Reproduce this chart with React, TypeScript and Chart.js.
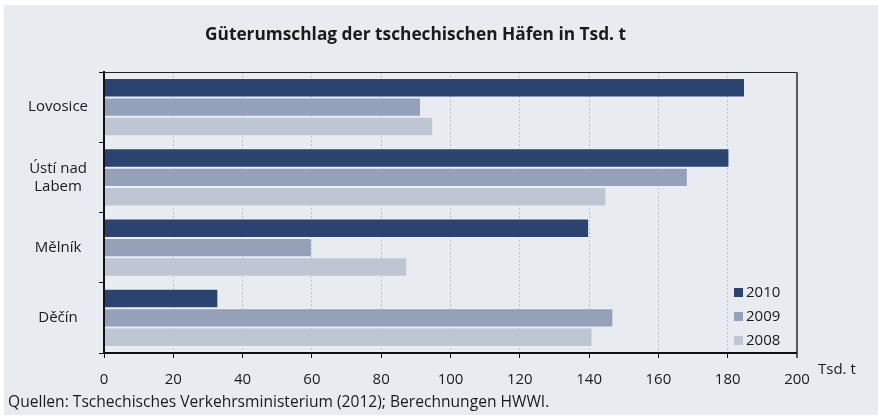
import React, { useEffect, useRef } from "react";
import { Chart, registerables } from "chart.js";

Chart.register(...registerables);

const TITLE = "Güterumschlag der tschechischen Häfen in Tsd. t";
const SOURCE = "Quellen: Tschechisches Verkehrsministerium (2012); Berechnungen HWWI.";
const UNIT = "Tsd. t";

const categories: (string | string[])[] = ["Lovosice", ["Ústí nad", "Labem"], "Mělník", "Děčín"];
const years = ["2010", "2009", "2008"];
const values2010 = [185, 180.5, 140, 33];
const values2009 = [91.5, 168.5, 60, 147];
const values2008 = [95, 145, 87.5, 141];
const colors = ["#2a4371", "#95a1b8", "#bfc6d3"];

const xMin = 0;
const xMax = 200;
const xStep = 20;

const FONT = "'Open Sans', 'Noto Sans', sans-serif";
const TEXT = "#1a1a1a";

export default function App() {
  const ref = useRef<HTMLCanvasElement | null>(null);

  useEffect(() => {
    document.body.style.margin = "0";
    const canvas = ref.current;
    if (!canvas) return;

    const decor = {
      id: "decor",
      beforeDraw(chart: any) {
        const { ctx, width, height } = chart;
        ctx.save();
        ctx.fillStyle = "#ffffff";
        ctx.fillRect(0, 0, width, height);
        ctx.fillStyle = "#e8ebf0";
        ctx.fillRect(4, 5, width - 4, height - 9);
        ctx.restore();
      },
      afterDraw(chart: any) {
        const { ctx, chartArea } = chart;
        const { left, right, top, bottom } = chartArea;
        const xs = chart.scales.x;
        ctx.save();
        // frame
        ctx.strokeStyle = "#222";
        ctx.lineWidth = 1;
        ctx.beginPath();
        ctx.moveTo(left, top + 0.5);
        ctx.lineTo(right, top + 0.5);
        ctx.stroke();
        ctx.strokeStyle = "#5a5a5a";
        ctx.lineWidth = 2;
        ctx.beginPath();
        ctx.moveTo(right, top);
        ctx.lineTo(right, bottom + 5);
        ctx.stroke();
        ctx.strokeStyle = "#111";
        ctx.beginPath();
        ctx.moveTo(left, top);
        ctx.lineTo(left, bottom);
        ctx.lineTo(right, bottom);
        ctx.stroke();

        // title
        ctx.fillStyle = TEXT;
        ctx.font = `bold 17.3px ${FONT}`;
        ctx.textAlign = "center";
        ctx.textBaseline = "middle";
        ctx.fillText(TITLE, (left + right) / 2 - 35, 35);

        // legend inside plot
        ctx.font = `15px ${FONT}`;
        ctx.textBaseline = "middle";
        ctx.textAlign = "left";
        chart.data.datasets.forEach((ds: any, i: number) => {
          const n = chart.data.datasets.length;
          const cy = bottom - 12.5 - (n - 1 - i) * 24;
          const bx = right - 63;
          ctx.fillStyle = ds.backgroundColor;
          ctx.fillRect(bx, cy - 4.5, 9, 9);
          ctx.fillStyle = TEXT;
          ctx.fillText(ds.label, bx + 12, cy + 0.5);
        });

        // unit label
        ctx.fillStyle = TEXT;
        ctx.font = `15px ${FONT}`;
        ctx.textBaseline = "middle";
        ctx.fillText(UNIT, xs.getPixelForValue(xMax) + 21, bottom + 17);

        // source
        ctx.font = `15.6px ${FONT}`;
        ctx.textBaseline = "alphabetic";
        ctx.fillText(SOURCE, 8, 407);
        ctx.restore();
      },
    };

    const chart = new Chart(canvas, {
      type: "bar",
      data: {
        labels: categories as any,
        datasets: [
          { label: years[0], data: values2010, backgroundColor: colors[0] },
          { label: years[1], data: values2009, backgroundColor: colors[1] },
          { label: years[2], data: values2008, backgroundColor: colors[2] },
        ].map((d) => ({
          ...d,
          borderColor: "rgba(255,255,255,0.22)",
          borderWidth: 1,
          categoryPercentage: 0.83,
          barPercentage: 1.0,
        })),
      },
      options: {
        indexAxis: "y",
        responsive: false,
        animation: false,
        events: [],
        layout: { padding: { left: 8, right: 81, top: 72, bottom: 0 } },
        plugins: {
          legend: { display: false },
          tooltip: { enabled: false },
          title: { display: false },
        },
        scales: {
          x: {
            type: "linear",
            min: xMin,
            max: xMax,
            ticks: {
              stepSize: xStep,
              color: TEXT,
              font: { family: FONT, size: 15 },
              padding: 13,
              maxRotation: 0,
            },
            grid: {
              color: "#bcc0c8",
              lineWidth: 1,
              drawTicks: true,
              tickLength: 5,
              tickColor: "#111",
              tickWidth: 1,
            },
            border: { display: true, color: "#111", width: 2, dash: [2, 2] },
            afterFit(scale: any) {
              scale.height = 66;
            },
          },
          y: {
            type: "category",
            ticks: {
              color: TEXT,
              font: { family: FONT, size: 15 },
              crossAlign: "center",
              padding: 11,
            },
            grid: {
              offset: true,
              drawOnChartArea: false,
              drawTicks: true,
              tickLength: 5,
              tickColor: "#111",
              tickWidth: 1,
            },
            border: { display: true, color: "#111", width: 2 },
            afterFit(scale: any) {
              scale.width = 96;
            },
          },
        },
      },
      plugins: [decor],
    } as any);

    return () => chart.destroy();
  }, []);

  return <canvas ref={ref} width={878} height={419} style={{ display: "block" }} />;
}
